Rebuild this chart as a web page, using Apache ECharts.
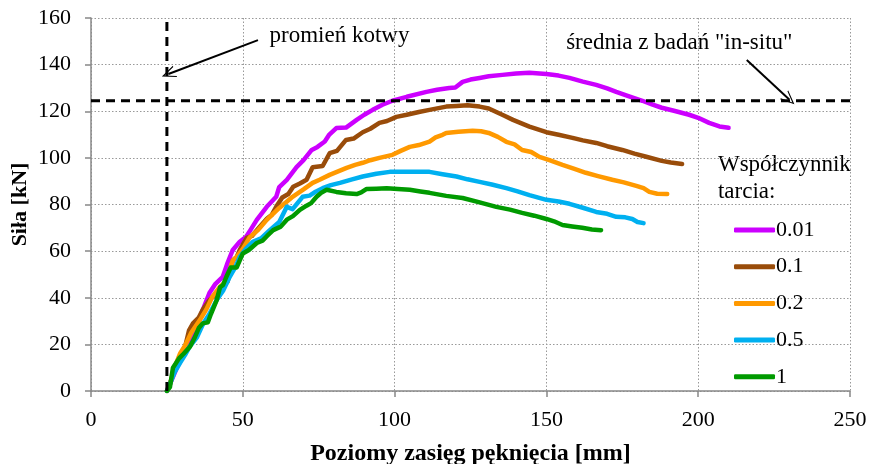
<!DOCTYPE html>
<html>
<head>
<meta charset="utf-8">
<script src="https://cdn.jsdelivr.net/npm/echarts@6/dist/echarts.min.js"></script>
<style>
  html, body { margin: 0; padding: 0; background: #fff; }
  #chart { width: 870px; height: 464px; }
</style>
</head>
<body>
<div id="chart"></div>
<script>
// Friction coefficient variants (legend labels)
const frictionLabels = ['0.01', '0.1', '0.2', '0.5', '1'];
const seriesColors = ['#CC00FF', '#994C0A', '#FF9900', '#00B0F0', '#009A00'];

// Force [kN] vs horizontal crack extent [mm], pairs [x, y]
const mu001 = [
  [25, 0], [26, 3], [28.3, 10], [31, 17], [33.6, 23], [36, 32], [39, 42], [41, 46], [43.4, 49],
  [45, 55], [46.7, 60.5], [49, 64], [51, 66], [52.5, 69], [54.6, 73.4], [57.9, 79],
  [61, 83.3], [62, 87.5], [64.5, 90.6], [67.7, 96], [70, 99], [72.7, 103.4], [74.6, 104.7],
  [77, 107], [78.5, 110], [80.8, 112.8], [84, 113], [87.5, 116.3], [90, 118.5], [92.8, 120.6],
  [96, 122.8], [99.3, 124.5], [104, 126.2], [110.5, 128.3], [114, 129.2], [118, 130],
  [120, 130.2], [122.4, 132.6], [125, 133.6], [128, 134.3], [131, 135], [135.5, 135.6],
  [140, 136.2], [144.4, 136.5], [150, 136], [154, 135.3], [157.6, 134.3], [162, 132.7],
  [166.4, 131.3], [170, 129.8], [173, 128.3], [177, 126.5], [181.6, 124.5], [185, 122.8],
  [188, 121.5], [192, 120.2], [197, 118.5], [200, 117.2], [203.6, 115], [207, 113.5], [210, 112.9]
];
const mu01 = [
  [25, 0], [26, 3], [27.5, 9], [29.3, 14.6], [31, 19], [32.3, 26], [33.6, 29], [35.5, 31.5],
  [36.8, 34.8], [39, 39], [41, 41.5], [43.4, 44.6], [45, 47], [46.7, 56], [48, 57.5], [49, 60.5],
  [51.3, 65.7], [53, 66.5], [55.6, 70.5], [58, 74], [59.5, 75.5], [61, 79], [63, 83],
  [65, 84.5], [66.6, 87.6], [68.8, 89], [71, 90.6], [73, 96], [76.3, 96.5], [78.6, 102],
  [81, 103], [84, 107.7], [86.5, 108.3], [89.5, 111], [92, 112.5], [95, 115], [97.5, 115.8],
  [100.6, 117.6], [104, 118.5], [108, 119.7], [111.5, 120.6], [117, 122], [120.4, 122.3],
  [124, 122.6], [128, 122], [131, 121.2], [133.5, 119.7], [136, 118.2], [139, 116.3],
  [144.4, 113.4], [150, 111], [154, 109.9], [158.6, 108.6], [162, 107.5], [166.4, 106.4],
  [170, 105], [175, 103.4], [179, 101.8], [182.9, 100.5], [188, 98.7], [191, 98], [194.7, 97.4]
];
const mu02 = [
  [25, 0], [26, 3], [27.5, 10], [29.3, 16], [31, 19.5], [33, 25], [35.9, 30.5], [38, 35],
  [40, 40.5], [42.4, 44.6], [44.5, 47], [46.7, 56], [48, 57.5], [50, 61], [52.3, 66],
  [55, 69], [57.9, 73.4], [62, 78.5], [66.4, 83.3], [70, 86.5], [73, 89.3], [75.3, 90.6],
  [78.6, 92.7], [82, 94.5], [84.2, 95.7], [87, 97], [89.5, 97.9], [92, 99], [95, 100],
  [99.3, 101.3], [102, 103], [105, 104.7], [108, 105.5], [111.5, 107], [113.5, 108.8],
  [115.8, 109.9], [117, 110.7], [121, 111.2], [125.7, 111.6], [128.5, 111.4], [131, 110.7],
  [134, 109], [136.8, 106.9], [139.5, 105.8], [142, 103.4], [145, 102.5], [147.7, 100.4],
  [151, 99], [155.3, 97], [159, 95.4], [163, 93.6], [167, 92.2], [171.7, 90.6], [175.5, 89.5],
  [179.6, 88], [182, 87], [183.9, 85.4], [186.5, 84.6], [189.8, 84.5]
];
const mu05 = [
  [25, 0], [26, 3], [27.5, 8], [29.3, 12], [31, 15.5], [32.5, 19], [34.9, 23], [37, 29],
  [39, 33], [41.4, 39], [43.5, 43], [45.7, 49], [47.5, 53], [49, 57.5], [51, 61],
  [53.3, 64], [56, 65.5], [58.9, 69], [62, 72.5], [64.5, 79], [66.4, 78], [69.7, 83.3],
  [72, 83.8], [74, 85.5], [76.3, 87], [79, 88.3], [82, 89.3], [86, 90.8], [89.5, 92],
  [94, 93.2], [98.4, 94], [102, 94.1], [106, 94], [111.5, 94], [115.8, 93], [120.4, 92],
  [124, 90.8], [128, 89.7], [132, 88.6], [136.8, 87], [140.5, 85.6], [144.4, 84],
  [150, 82], [154, 81.3], [157.6, 80.3], [162, 78.6], [166.4, 76.8], [170, 76],
  [173, 74.7], [176, 74.5], [178.3, 73.8], [180, 72.5], [182, 72]
];
const mu1 = [
  [25, 0], [26, 1.7], [27, 10], [29, 14], [30.5, 16], [32.6, 19], [34, 22.5], [35.5, 27],
  [36.8, 29], [38.5, 29.5], [39.5, 33], [41.4, 39], [42.5, 44.5], [43.5, 45.5], [44.6, 49],
  [46, 53], [48, 53], [49, 56], [50, 59], [52, 60.5], [54.6, 63.5], [56.5, 64.5], [58, 66.5],
  [60, 69], [62.5, 70.5], [64.5, 73.5], [66.5, 75], [68.8, 77.7], [71, 79.5], [72.5, 80.6],
  [74.3, 83.3], [75.8, 85], [77.6, 86.3], [80.8, 85.4], [84, 84.8], [87.5, 84.5], [89, 85.2],
  [90.8, 86.7], [94, 86.8], [97.4, 87], [101, 86.7], [105, 86.3], [108.5, 85.6],
  [111.5, 85], [117, 83.7], [122.4, 82.8], [128, 80.9], [133.5, 79], [138, 77.8],
  [142, 76.4], [146, 75.2], [150, 73.8], [152.5, 72.8], [155.3, 71.2], [158.5, 70.6],
  [161.8, 70], [165, 69.3], [168, 69]
];
const curveData = [mu001, mu01, mu02, mu05, mu1];

// Reference lines
const anchorRadius = 25;       // mm
const insituMeanForce = 124.5; // kN

// Axis ranges / ticks
const xAxisMin = 0, xAxisMax = 250, xAxisStep = 50;
const yAxisMin = 0, yAxisMax = 160, yAxisStep = 20;

const serif = '"Liberation Serif", "Times New Roman", serif';

const chart = echarts.init(document.getElementById('chart'), null, { renderer: 'canvas' });

const curveSeries = frictionLabels.map((name, i) => ({
  name: name,
  type: 'line',
  data: curveData[i],
  showSymbol: false,
  symbol: 'none',
  smooth: false,
  color: seriesColors[i],
  lineStyle: { width: 4.5, color: seriesColors[i], cap: 'round', join: 'round' },
  emphasis: { disabled: true },
  z: 3 + i
}));

// Open chevron arrow head for annotation pointers
const arrowHead = 'path://M0,0 L7,14 L5.6,14 L0,2.8 L-5.6,14 L-7,14 Z';

const dashedStyle = { color: '#000', width: 3, type: [9, 6] };

const option = {
  animation: false,
  backgroundColor: '#fff',
  grid: {
    left: 91, right: 20, top: 18, bottom: 73,
    containLabel: false,
    outerBoundsMode: 'none'
  },
  xAxis: {
    type: 'value',
    min: xAxisMin, max: xAxisMax, interval: xAxisStep,
    name: 'Poziomy zasięg pęknięcia [mm]',
    nameLocation: 'middle',
    nameGap: 51,
    nameTextStyle: { fontFamily: serif, fontWeight: 'bold', fontSize: 24, color: '#000' },
    axisLine: { show: true, onZero: false, lineStyle: { color: '#888', width: 1.5 } },
    axisTick: { show: true, inside: false, length: 6, lineStyle: { color: '#888', width: 1.5 } },
    axisLabel: { fontFamily: serif, fontSize: 22, color: '#000', margin: 18 },
    splitLine: { show: true, lineStyle: { color: '#999', width: 1, type: [1.5, 2] } }
  },
  yAxis: {
    type: 'value',
    min: yAxisMin, max: yAxisMax, interval: yAxisStep,
    name: 'Siła [kN]',
    nameLocation: 'middle',
    nameGap: 60,
    nameMoveOverlap: false,
    nameRotate: 90,
    nameTextStyle: { fontFamily: serif, fontWeight: 'bold', fontSize: 22, color: '#000' },
    axisLine: { show: true, onZero: false, lineStyle: { color: '#888', width: 1.5 } },
    axisTick: { show: true, inside: false, length: 6, lineStyle: { color: '#888', width: 1.5 } },
    axisLabel: { fontFamily: serif, fontSize: 22, color: '#000', margin: 20 },
    splitLine: { show: true, lineStyle: { color: '#999', width: 1, type: [1.5, 2] } }
  },
  legend: {
    data: frictionLabels,
    orient: 'vertical',
    left: 729,
    top: 214,
    itemWidth: 41,
    itemHeight: 5,
    itemGap: 14.7,
    icon: 'roundRect',
    selectedMode: false,
    textStyle: { fontFamily: serif, fontSize: 22, color: '#000', padding: [0, 0, 0, -4] }
  },
  series: curveSeries.concat([
    {
      name: 'promień kotwy',
      type: 'line',
      data: [[anchorRadius, yAxisMin], [anchorRadius, yAxisMax]],
      showSymbol: false, symbol: 'none',
      lineStyle: dashedStyle,
      emphasis: { disabled: true },
      z: 10
    },
    {
      name: 'średnia',
      type: 'line',
      data: [[xAxisMin, insituMeanForce], [xAxisMax, insituMeanForce]],
      showSymbol: false, symbol: 'none',
      lineStyle: dashedStyle,
      emphasis: { disabled: true },
      z: 10,
      markLine: {
        silent: true,
        symbol: ['none', arrowHead],
        symbolSize: [12, 14],
        lineStyle: { color: '#000', width: 2, type: 'solid' },
        label: { show: false },
        data: [
          [{ coord: [55, 150.5] }, { coord: [25.5, 136] }],
          [{ coord: [216, 142] }, { coord: [230, 125] }]
        ]
      }
    }
  ]),
  graphic: []
};

chart.setOption(option);

// Text annotations placed in data coordinates
function place(coord) { return chart.convertToPixel({ gridIndex: 0 }, coord); }
const pKotwy = place([58.8, 151.5]);
const pSrednia = place([156.5, 148.5]);
const pTitle = place([206.5, 97]);
chart.setOption({
  graphic: [
    {
      type: 'text', left: pKotwy[0], top: pKotwy[1] - 13, silent: true,
      style: { text: 'promień kotwy', font: '23px ' + serif, fill: '#000' }
    },
    {
      type: 'text', left: pSrednia[0], top: pSrednia[1] - 13, silent: true,
      style: { text: 'średnia z badań "in-situ"', font: '23px ' + serif, fill: '#000' }
    },
    {
      type: 'text', left: pTitle[0], top: pTitle[1] - 13, silent: true,
      style: { text: 'Współczynnik\ntarcia:', font: '23px ' + serif, fill: '#000', lineHeight: 27 }
    }
  ]
});
</script>
</body>
</html>
